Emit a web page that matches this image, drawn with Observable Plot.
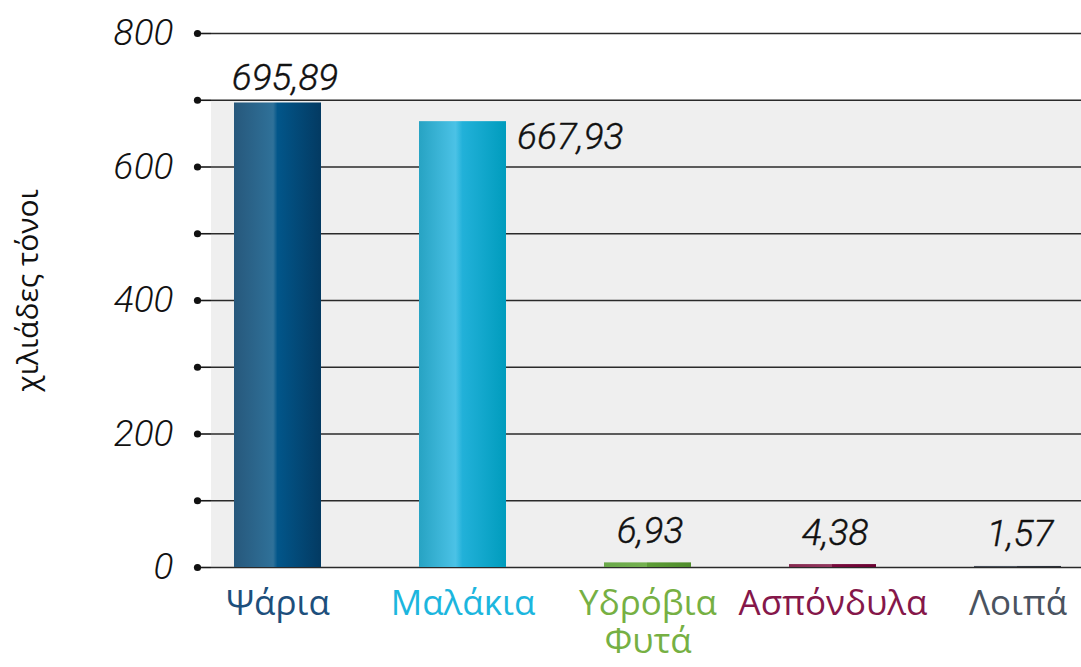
<!DOCTYPE html>
<html><head><meta charset="utf-8">
<script src="https://cdn.jsdelivr.net/npm/d3@7"></script>
<script src="https://cdn.jsdelivr.net/npm/@observablehq/plot@0.6"></script>
<style>body{margin:0;background:#fff;} #chart svg{display:block;}</style>
</head><body><div id="chart"></div>
<script>
// ---- data ----
const categories = ["Ψάρια", "Μαλάκια", "Υδρόβια Φυτά", "Ασπόνδυλα", "Λοιπά"];
const categoryLabels = ["Ψάρια", "Μαλάκια", "Υδρόβια\nΦυτά", "Ασπόνδυλα", "Λοιπά"];
const values = [695.89, 667.93, 6.93, 4.38, 1.57];
const yTicks = [0, 100, 200, 300, 400, 500, 600, 700, 800];
const yTickLabels = ["0", "", "200", "", "400", "", "600", "", "800"];
const shadedTop = 700;
const axisTitle = "χιλιάδες τόνοι";

// ---- styles ----
const labelColors = ["#1d4f7c", "#1cb6de", "#76b043", "#85174a", "#4a5360"];
const barGradients = [
  [["0", "#27587c"], ["0.45", "#2f7199"], ["0.5", "#02568a"], ["1", "#033a62"]],
  [["0", "#27a3c3"], ["0.42", "#4bc2e6"], ["0.5", "#22b1d9"], ["1", "#009cbd"]],
  [["0", "#6aa94a"], ["0.5", "#74b04f"], ["0.5", "#5d9d36"], ["1", "#4f8c2c"]],
  [["0", "#86294f"], ["0.5", "#93385f"], ["0.5", "#7a0a3d"], ["1", "#6a0232"]],
  [["0", "#464c56"], ["0.5", "#515862"], ["0.5", "#343a43"], ["1", "#2b3038"]]
];

const data = categories.map((c, i) => ({category: c, value: values[i], label: categoryLabels[i]}));
const fmt = v => v.toFixed(2).replace(".", ",");

function gradientDefs() {
  const defs = d3.create("svg:defs");
  barGradients.forEach((stops, i) => {
    const g = defs.append("linearGradient").attr("id", "bar-grad-" + i)
      .attr("x1", "0").attr("x2", "1").attr("y1", "0").attr("y2", "0");
    stops.forEach(([o, c]) => g.append("stop").attr("offset", o).attr("stop-color", c));
  });
  return defs.node();
}

const numFont = {fontFamily: "Roboto, sans-serif", fontStyle: "italic", fontWeight: 300, fontSize: 37, fill: "#111", stroke: "#111", strokeWidth: 0.4};

const chart = Plot.plot({
  width: 1081,
  height: 667,
  marginTop: 33,
  marginBottom: 100,
  marginLeft: 211,
  marginRight: 0,
  x: {domain: categories, range: [183.25, 1110.75], paddingInner: 0.53, paddingOuter: 0.265, axis: null},
  y: {domain: [0, 800], axis: null},
  marks: [
    gradientDefs,
    Plot.rect([{top: shadedTop}], {y1: 0, y2: "top", fill: "#efefef"}),
    Plot.ruleY(yTicks, {stroke: "#2a2a2a", strokeWidth: 1.6}),
    Plot.axisY(yTicks, {
      tickSize: 14, tickPadding: 24, stroke: "#1a1a1a", strokeWidth: 1.6,
      tickFormat: d => yTickLabels[yTicks.indexOf(d)],
      fontSize: 37, fontStyle: "italic", fontWeight: 300, fontFamily: "Roboto, sans-serif", color: "#111",
      label: null
    }),
    Plot.dot(yTicks, {y: d => d, frameAnchor: "left", dx: -14, r: 3.6, fill: "#111", stroke: null}),
    ...data.map((d, i) => Plot.barY([d], {x: "category", y: "value", fill: `url(#bar-grad-${i})`})),
    Plot.text(data, {
      filter: d => d.category === "Ψάρια",
      x: "category", y: "value", text: d => fmt(d.value),
      lineAnchor: "bottom", dy: -13, dx: 7, ...numFont
    }),
    Plot.text(data, {
      filter: d => d.value < 100,
      x: "category", y: "value", text: d => fmt(d.value),
      lineAnchor: "bottom", dy: -20, dx: 2, ...numFont
    }),
    Plot.text(data, {
      filter: d => d.category === "Μαλάκια",
      x: "category", y: "value", text: d => fmt(d.value),
      textAnchor: "start", lineAnchor: "middle", dx: 54, dy: 15, ...numFont
    }),
    ...data.map((d, i) => Plot.text([d], {
      x: "category", y: 0, text: "label", lineAnchor: "top", dy: 21,
      fontSize: 35, lineHeight: 1.08, fontFamily: "'Open Sans', sans-serif", fill: labelColors[i]
    })),
    Plot.text([axisTitle], {
      text: d => d, frameAnchor: "left", textAnchor: "middle", rotate: -90, dx: -183, dy: -10,
      fontSize: 30, fontFamily: "'Open Sans', sans-serif", fill: "#111"
    })
  ]
});
document.getElementById("chart").appendChild(chart);
</script>
</body></html>
